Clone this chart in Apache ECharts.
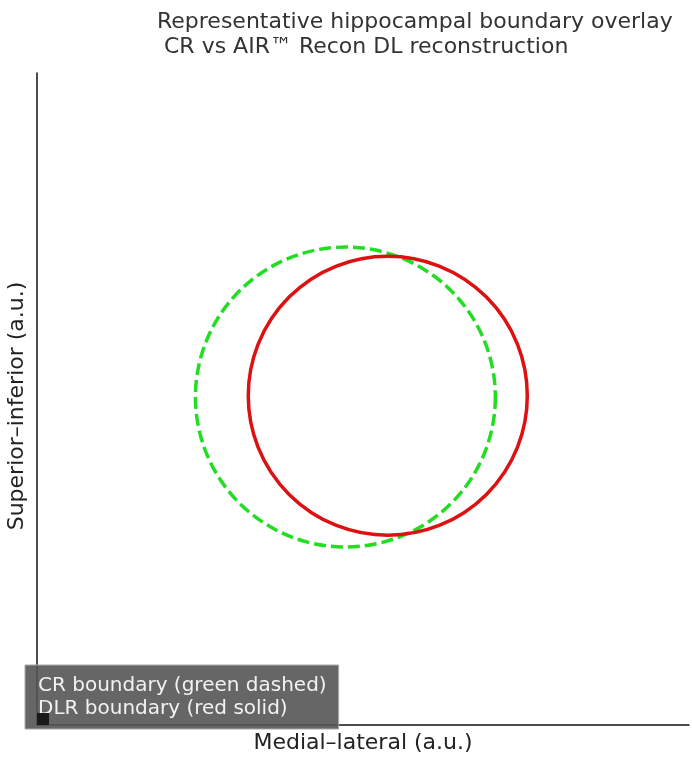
<!DOCTYPE html>
<html>
<head>
<meta charset="utf-8">
<script src="https://cdn.jsdelivr.net/npm/echarts@6/dist/echarts.min.js"></script>
<style>
  html, body { margin: 0; padding: 0; background: #fff; }
  #main { width: 692px; height: 761px; }
</style>
</head>
<body>
<div id="main"></div>
<script>
// boundary circles: [centre x, centre y, radius] in a.u.
var seriesNames = ['CR boundary (green dashed)', 'DLR boundary (red solid)'];
var crCircle = [[47.3, 50.3, 23.0]];
var dlrCircle = [[53.8, 50.5, 21.4]];
var axisRange = [0, 100];

var myChart = echarts.init(document.getElementById('main'));

function circleItem(params, api) {
    var c = api.coord([api.value(0), api.value(1)]);
    var r = api.size([api.value(2), api.value(2)]);
    return {
        type: 'circle',
        shape: { cx: c[0], cy: c[1], r: (r[0] + r[1]) / 2 }
    };
}

var option = {
    animation: false,
    textStyle: { fontFamily: 'DejaVu Sans' },
    title: {
        text: 'Representative hippocampal boundary overlay\n CR vs AIR\u2122 Recon DL reconstruction',
        left: 152,
        top: 5,
        textStyle: { fontSize: 22, fontWeight: 'normal', color: '#333', lineHeight: 25, fontFamily: 'DejaVu Sans' }
    },
    legend: {
        data: seriesNames,
        orient: 'vertical',
        left: 25,
        top: 665,
        icon: 'none',
        itemWidth: 0,
        itemGap: 0,
        padding: [9, 12, 9, 8],
        backgroundColor: 'rgba(85,85,85,0.9)',
        borderColor: '#aaa',
        borderWidth: 1,
        selectedMode: false,
        textStyle: { color: '#f2f2f2', fontSize: 20, lineHeight: 23, padding: 0, fontFamily: 'DejaVu Sans' }
    },
    grid: { left: 37, right: 3, top: 73, bottom: 36, outerBoundsMode: 'none', containLabel: false },
    xAxis: {
        type: 'value',
        min: axisRange[0],
        max: axisRange[1],
        name: 'Medial\u2013lateral (a.u.)',
        nameLocation: 'middle',
        nameGap: 7,
        nameTextStyle: { fontSize: 22, color: '#222' },
        axisLine: { lineStyle: { color: '#111', width: 1.5 } },
        axisTick: { show: false },
        axisLabel: { show: false },
        splitLine: { show: false }
    },
    yAxis: {
        type: 'value',
        min: axisRange[0],
        max: axisRange[1],
        name: 'Superior\u2013inferior (a.u.)',
        nameLocation: 'middle',
        nameGap: 9,
        nameTextStyle: { fontSize: 22, color: '#222', padding: [0, 14, 0, 0] },
        axisLine: { show: true, lineStyle: { color: '#111', width: 1.5 } },
        axisTick: { show: false },
        axisLabel: { show: false },
        splitLine: { show: false }
    },
    series: [
        {
            name: seriesNames[0],
            type: 'custom',
            clip: false,
            encode: { x: 0, y: 1 },
            data: crCircle,
            z: 2,
            renderItem: function (params, api) {
                var el = circleItem(params, api);
                el.style = { fill: null, stroke: '#22dd22', lineWidth: 3.5, lineDash: [12, 5] };
                return el;
            }
        },
        {
            name: seriesNames[1],
            type: 'custom',
            clip: false,
            encode: { x: 0, y: 1 },
            data: dlrCircle,
            z: 3,
            renderItem: function (params, api) {
                var el = circleItem(params, api);
                el.style = { fill: null, stroke: '#dd1111', lineWidth: 3.5 };
                return el;
            }
        }
    ],
    graphic: [
        {
            type: 'rect',
            left: 37,
            top: 713,
            shape: { width: 12, height: 12 },
            style: { fill: '#1a1a1a' },
            z: 200
        }
    ]
};

myChart.setOption(option);
</script>
</body>
</html>
